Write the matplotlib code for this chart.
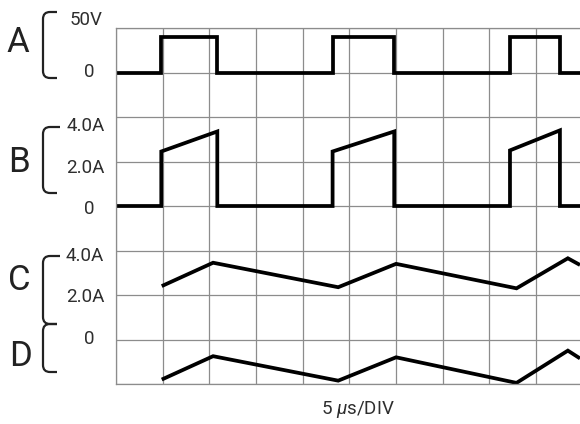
import numpy as np
import matplotlib
matplotlib.use("Agg")
import matplotlib.pyplot as plt
from matplotlib.path import Path
from matplotlib.patches import PathPatch

plt.rcParams['font.family'] = ['Roboto', 'DejaVu Sans']
plt.rcParams['mathtext.fontset'] = 'custom'
plt.rcParams['mathtext.it'] = 'Roboto:italic'
plt.rcParams['mathtext.rm'] = 'Roboto'

# time base: 5 us per division
us_per_div = 5
t_end = 49.7

# A: switch voltage (V), pulses
a_rise = [4.85, 23.2, 42.2]
a_fall = [10.85, 29.8, 47.55]
a_high = 40

# B: switch current (A), ramps while on
b_start = [2.45, 2.45, 2.5]
b_peak = [3.35, 3.35, 3.4]

# C: inductor current (A), D: shifted copy (A)
c_t = [4.9, 10.4, 23.8, 30.0, 42.9, 48.4, 49.7]
c_i = [2.4, 3.45, 2.35, 3.4, 2.3, 3.65, 3.35]
d_i = [-1.8, -0.75, -1.85, -0.8, -1.95, -0.5, -0.85]

# channel offsets (divisions) and scales (units per division)
a_zero, a_scale = 7, 50
b_zero, b_scale = 4, 2
c_zero, c_scale = 1, 2
d_zero, d_scale = 1, 2


def pulse_train(rise, fall, low, high):
    t = [0]
    v = [low]
    for r, f, h in zip(rise, fall, high):
        h0, h1 = h
        t += [r, r, f, f]
        v += [low, h0, h1, low]
    t.append(t_end)
    v.append(low)
    return np.array(t), np.array(v)


fig = plt.figure(figsize=(5.8, 4.24), dpi=100)
ax = fig.add_axes([116 / 580, 40 / 424, 464 / 580, 356 / 424])

grid_col = '#8c8c8c'
ax.set_xlim(0, t_end)
ax.set_ylim(0, 8)
ax.set_xticks(np.arange(0, 50, us_per_div))
ax.set_yticks(np.arange(0, 9, 1))
ax.tick_params(length=0, labelbottom=False, labelleft=False)
ax.grid(True, color=grid_col, lw=0.9)
for side in ['left', 'bottom', 'top']:
    ax.spines[side].set_color(grid_col)
    ax.spines[side].set_linewidth(0.9)
ax.spines['right'].set_visible(False)

trace = dict(color='black', lw=2.7, solid_joinstyle='miter', solid_capstyle='butt', clip_on=False)

ta, va = pulse_train(a_rise, a_fall, 0, [(a_high, a_high)] * 3)
ax.plot(ta, a_zero + va / a_scale, **trace)

tb, vb = pulse_train(a_rise, a_fall, 0, list(zip(b_start, b_peak)))
ax.plot(tb, b_zero + vb / b_scale, **trace)

ax.plot(c_t, c_zero + np.array(c_i) / c_scale, **trace)
ax.plot(c_t, d_zero + np.array(d_i) / d_scale, **trace)


# labels and brackets in pixel coordinates of the figure
def fx(x):
    return x / 580


def fy(y):
    return 1 - y / 424


txt = '#222222'
for name, x, y in [('A', 18, 43), ('B', 19, 162), ('C', 19, 281), ('D', 20, 357)]:
    fig.text(fx(x), fy(y), name, fontsize=25, color=txt, ha='center', va='center')

for lab, x, y in [('50V', 86, 20), ('0', 89, 72), ('4.0A', 86, 126), ('2.0A', 85, 168),
                  ('0', 89, 209), ('4.0A', 85, 256), ('2.0A', 85, 297), ('0', 89, 339)]:
    fig.text(fx(x), fy(y), lab, fontsize=13.5, color='#2e2e2e', ha='center', va='center')

fig.text(fx(358), fy(410), r'5 $\mu$s/DIV', fontsize=13.5, color='#2e2e2e',
         ha='center', va='center')


def bracket(top, bot, x=43, top_end=57, bot_end=57, r=7):
    verts = [(top_end, top), (x + r, top), (x, top), (x, top + r),
             (x, bot - r), (x, bot), (x + r, bot), (bot_end, bot)]
    codes = [Path.MOVETO, Path.LINETO, Path.CURVE3, Path.CURVE3,
             Path.LINETO, Path.CURVE3, Path.CURVE3, Path.LINETO]
    verts = [(fx(a), fy(b)) for a, b in verts]
    fig.patches.append(PathPatch(Path(verts, codes), fill=False, ec=txt, lw=1.6,
                                 transform=fig.transFigure, figure=fig))


bracket(12, 78)
bracket(127, 193, top_end=60)
bracket(256, 324, top_end=60)
bracket(324, 372)

fig.savefig('out.png', dpi=100)
